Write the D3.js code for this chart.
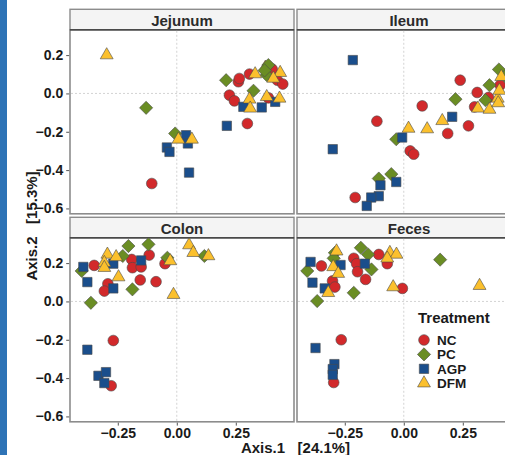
<!DOCTYPE html>
<html>
<head>
<meta charset="utf-8">
<script src="https://cdn.jsdelivr.net/npm/d3@7"></script>
<style>
  body { margin: 0; background: #fff; }
  svg { display: block; font-family: "Liberation Sans", Arial, sans-serif; }
</style>
</head>
<body>
<svg id="chart" width="505" height="455"></svg>
<script>
// facetas, tratamientos y ejes
const panels = ["Jejunum", "Ileum", "Colon", "Feces"];
const treatments = ["NC", "PC", "AGP", "DFM"];
const colors = ["#d2292b", "#6a8d24", "#1a4e8c", "#fbc02d"];
const xTicks = [-0.25, 0, 0.25];
const yTicks = [0.2, 0, -0.2, -0.4, -0.6];
const xTitle = "Axis.1   [24.1%]";
const yTitle = "Axis.2   [15.3%]";

// puntos: [tratamiento, eje1, eje2]
const jejunum = [
  ["NC", -0.106, -0.470], ["NC", 0.261, 0.061], ["NC", 0.265, 0.078], ["NC", 0.308, 0.101],
  ["NC", 0.395, 0.122], ["NC", 0.404, 0.127], ["NC", 0.426, 0.069], ["NC", 0.449, 0.049],
  ["NC", 0.223, -0.009], ["NC", 0.244, -0.039], ["NC", 0.388, -0.023], ["NC", 0.299, -0.157],
  ["DFM", 0.375, 0.135],
  ["PC", -0.130, -0.075], ["PC", 0.209, 0.069], ["PC", 0.388, 0.148], ["PC", 0.381, 0.096],
  ["PC", 0.325, 0.014], ["PC", -0.007, -0.209], ["PC", 0.372, 0.120],
  ["AGP", 0.282, -0.070], ["AGP", 0.360, -0.073], ["AGP", 0.417, -0.044], ["AGP", 0.212, -0.169],
  ["AGP", 0.039, -0.218], ["AGP", 0.047, -0.261], ["AGP", -0.042, -0.282], ["AGP", -0.031, -0.305],
  ["AGP", 0.052, -0.413],
  ["DFM", -0.297, 0.200], ["DFM", 0.332, 0.101], ["DFM", 0.438, 0.108], ["DFM", 0.409, 0.078],
  ["DFM", 0.308, -0.031], ["DFM", 0.311, -0.078], ["DFM", 0.381, -0.018], ["DFM", 0.435, -0.026],
  ["DFM", 0.007, -0.240], ["DFM", 0.064, -0.240]
];
const ileum = [
  ["NC", -0.114, -0.145], ["NC", 0.078, -0.065], ["NC", 0.239, 0.069], ["NC", 0.311, 0.005],
  ["NC", 0.359, -0.021], ["NC", 0.300, -0.070], ["NC", 0.274, -0.169], ["NC", 0.186, -0.209],
  ["NC", 0.027, -0.300], ["NC", 0.042, -0.317], ["NC", -0.206, -0.543], ["NC", 0.408, 0.043],
  ["PC", 0.219, -0.030], ["PC", -0.032, -0.239], ["PC", -0.106, -0.444], ["PC", -0.053, -0.421],
  ["PC", 0.363, 0.043], ["PC", 0.346, -0.035], ["PC", 0.403, 0.125], ["PC", 0.430, 0.090],
  ["AGP", -0.216, 0.174], ["AGP", -0.301, -0.291], ["AGP", -0.007, -0.230], ["AGP", 0.205, -0.122],
  ["AGP", -0.032, -0.462], ["AGP", -0.099, -0.479], ["AGP", -0.106, -0.536], ["AGP", -0.138, -0.543],
  ["AGP", -0.157, -0.587],
  ["DFM", 0.020, -0.183], ["DFM", 0.099, -0.186], ["DFM", 0.163, -0.143], ["DFM", 0.314, -0.078],
  ["DFM", 0.363, -0.084], ["DFM", 0.398, -0.026], ["DFM", 0.413, 0.087], ["DFM", 0.405, 0.015],
  ["DFM", 0.400, -0.050]
];
const colon = [
  ["NC", -0.350, 0.188], ["NC", -0.292, 0.092], ["NC", -0.307, 0.054], ["NC", -0.191, 0.219],
  ["NC", -0.188, 0.176], ["NC", -0.151, 0.180], ["NC", -0.117, 0.242], ["NC", -0.155, 0.112],
  ["NC", -0.088, 0.103], ["NC", -0.050, 0.197], ["NC", -0.269, -0.204], ["NC", -0.278, -0.440],
  ["PC", -0.403, 0.159], ["PC", -0.229, 0.237], ["PC", -0.205, 0.289], ["PC", -0.120, 0.298],
  ["PC", -0.188, 0.063], ["PC", -0.040, 0.228], ["PC", -0.364, -0.007], ["PC", 0.117, 0.237],
  ["AGP", -0.396, 0.180], ["AGP", -0.379, 0.101], ["AGP", -0.269, 0.197], ["AGP", -0.269, 0.068],
  ["AGP", -0.151, 0.214], ["AGP", -0.379, -0.252], ["AGP", -0.332, -0.388], ["AGP", -0.300, -0.369],
  ["AGP", -0.307, -0.426],
  ["DFM", -0.294, 0.245], ["DFM", -0.307, 0.202], ["DFM", -0.307, 0.176], ["DFM", -0.257, 0.232],
  ["DFM", -0.247, 0.127], ["DFM", -0.028, 0.211], ["DFM", -0.014, 0.035], ["DFM", 0.052, 0.294],
  ["DFM", 0.070, 0.254], ["DFM", 0.134, 0.237]
];
const feces = [
  ["NC", -0.349, 0.185], ["NC", -0.302, 0.107], ["NC", -0.292, 0.075], ["NC", -0.212, 0.225],
  ["NC", -0.200, 0.197], ["NC", -0.196, 0.155], ["NC", -0.162, 0.115], ["NC", -0.106, 0.245],
  ["NC", -0.070, 0.197], ["NC", -0.006, 0.068], ["NC", -0.265, -0.200], ["NC", -0.297, -0.423],
  ["PC", -0.409, 0.159], ["PC", -0.367, 0.002], ["PC", -0.292, 0.254], ["PC", -0.297, 0.225],
  ["PC", -0.182, 0.280], ["PC", -0.151, 0.245], ["PC", -0.137, 0.167], ["PC", -0.212, 0.045],
  ["PC", 0.154, 0.218],
  ["AGP", -0.395, 0.206], ["AGP", -0.387, 0.098], ["AGP", -0.268, 0.190], ["AGP", -0.335, 0.068],
  ["AGP", -0.165, 0.197], ["AGP", -0.374, -0.243], ["AGP", -0.294, -0.327], ["AGP", -0.301, -0.353],
  ["AGP", -0.301, -0.383],
  ["DFM", -0.285, 0.262], ["DFM", -0.299, 0.180], ["DFM", -0.278, 0.145], ["DFM", -0.320, 0.045],
  ["DFM", -0.059, 0.254], ["DFM", -0.031, 0.245], ["DFM", -0.045, 0.075], ["DFM", 0.321, 0.082],
  ["DFM", -0.070, 0.225]
];
const panelData = [jejunum, ileum, colon, feces];

const svg = d3.select("#chart");

// franja azul a la izquierda
svg.append("rect").attr("x", 0).attr("y", 0).attr("width", 7).attr("height", 455).attr("fill", "#2e73b6");

const colX = [70, 297];
const rowTop = [9.3, 217.3];
const panelW = 224, panelH = 184, stripH = 20.5;

const color = d3.scaleOrdinal().domain(treatments).range(colors);

// formas tipo ggplot (21, 23, 22, 24)
function shapePath(t) {
  if (t === "NC") return d3.symbol(d3.symbolCircle, 90)();
  if (t === "AGP") return d3.symbol(d3.symbolSquare, 88)();
  if (t === "DFM") return d3.symbol(d3.symbolTriangle, 72)();
  const r = 6.6;
  return `M0,${-r}L${r},0L0,${r}L${-r},0Z`;
}

panels.forEach((name, i) => {
  const x0 = colX[i % 2];
  const top = rowTop[Math.floor(i / 2)];
  const py = top + stripH;

  const x = d3.scaleLinear().domain([-0.4525, 0.4966]).range([x0, x0 + panelW]);
  const y = d3.scaleLinear().domain([-0.628, 0.332]).range([py + panelH, py]);

  const g = svg.append("g");

  // tira con el nombre
  g.append("rect").attr("x", x0).attr("y", top).attr("width", panelW).attr("height", stripH)
    .attr("fill", "#f4f4f4").attr("stroke", "#8c8c8c").attr("stroke-width", 1.4);
  g.append("text").attr("x", x0 + panelW / 2).attr("y", top + 16.3).attr("text-anchor", "middle")
    .attr("font-size", 15).attr("font-weight", "bold").attr("fill", "#2b2b2b").text(name);

  // panel
  g.append("rect").attr("x", x0).attr("y", py).attr("width", panelW).attr("height", panelH)
    .attr("fill", "#fff").attr("stroke", "#8c8c8c").attr("stroke-width", 1.6);
  g.append("line").attr("x1", x0).attr("x2", x0 + panelW).attr("y1", py).attr("y2", py)
    .attr("stroke", "#333").attr("stroke-width", 1.2);

  // lineas de referencia en cero
  g.append("line").attr("x1", x(0)).attr("x2", x(0)).attr("y1", py + 1).attr("y2", py + panelH - 1)
    .attr("stroke", "#c6c6c6").attr("stroke-width", 0.8).attr("stroke-dasharray", "2,2");
  g.append("line").attr("x1", x0 + 1).attr("x2", x0 + panelW - 1).attr("y1", y(0)).attr("y2", y(0))
    .attr("stroke", "#c6c6c6").attr("stroke-width", 0.8).attr("stroke-dasharray", "2,2");

  // ejes
  if (i % 2 === 0) {
    const ay = g.append("g").attr("transform", `translate(${x0 - 0.8},0)`)
      .call(d3.axisLeft(y).tickValues(yTicks).tickFormat(d3.format(".1f")).tickSize(3).tickPadding(3));
    ay.select(".domain").remove();
    ay.selectAll("line").attr("stroke", "#555");
    ay.selectAll("text").attr("font-size", 14).attr("font-weight", "bold").attr("fill", "#1a1a1a")
      .attr("font-family", "Liberation Sans, Arial, sans-serif");
  }
  if (i >= 2) {
    const ax = g.append("g").attr("transform", `translate(0,${py + panelH + 0.8})`)
      .call(d3.axisBottom(x).tickValues(xTicks).tickFormat(d3.format(".2f")).tickSize(3).tickPadding(2));
    ax.select(".domain").remove();
    ax.selectAll("line").attr("stroke", "#555");
    ax.selectAll("text").attr("font-size", 14).attr("font-weight", "bold").attr("fill", "#1a1a1a")
      .attr("font-family", "Liberation Sans, Arial, sans-serif");
  }

  // puntos
  g.append("g").selectAll("path")
    .data(panelData[i])
    .enter().append("path")
    .attr("d", d => shapePath(d[0]))
    .attr("transform", d => `translate(${x(d[1])},${y(d[2])})`)
    .attr("fill", d => color(d[0]))
    .attr("stroke", "#4a4a4a")
    .attr("stroke-width", 0.6);
});

// titulos de ejes
svg.append("text").attr("x", 295.5).attr("y", 452.5).attr("text-anchor", "middle")
  .style("white-space", "pre").attr("font-size", 15).attr("font-weight", "bold").attr("fill", "#1a1a1a")
  .text(xTitle);
svg.append("text").attr("transform", "translate(37,226) rotate(-90)").attr("text-anchor", "middle")
  .style("white-space", "pre").attr("font-size", 15).attr("font-weight", "bold").attr("fill", "#1a1a1a")
  .text(yTitle);

// leyenda
const legend = svg.append("g");
legend.append("text").attr("x", 418).attr("y", 323).attr("font-size", 15).attr("font-weight", "bold")
  .attr("fill", "#1a1a1a").text("Treatment");
treatments.forEach((t, k) => {
  const cy = 340 + k * 14.4;
  legend.append("path").attr("d", shapePath(t)).attr("transform", `translate(424,${cy})`)
    .attr("fill", color(t)).attr("stroke", "#4a4a4a").attr("stroke-width", 0.6);
  legend.append("text").attr("x", 437).attr("y", cy + 4.8).attr("font-size", 13.5).attr("font-weight", "bold")
    .attr("fill", "#1a1a1a").text(t);
});
</script>
</body>
</html>
